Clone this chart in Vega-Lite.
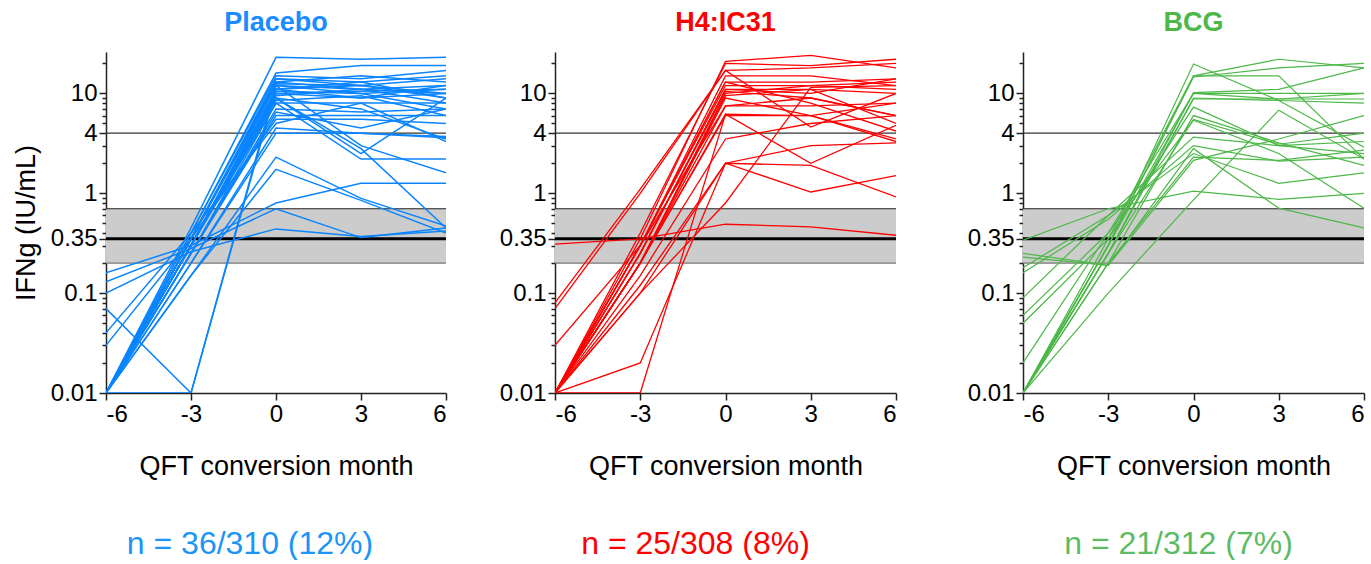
{
  "$schema": "https://vega.github.io/schema/vega-lite/v6.json",
  "padding": {"left": 12, "top": 9, "right": 0, "bottom": 0},
  "background": "white",
  "config": {
    "font": "Liberation Sans",
    "view": {"stroke": null},
    "axis": {"domainColor": "#222", "domainWidth": 1.5, "tickColor": "#222", "tickWidth": 1.5, "labelColor": "#000", "labelFontSize": 24, "titleFontSize": 27, "titleFontWeight": "normal", "titleColor": "#000", "grid": false},
    "title": {"fontSize": 27, "fontWeight": "bold", "anchor": "middle", "frame": "group", "offset": 14},
    "text": {"fontSize": 32}
  },
  "datasets": {
    "ifn": [
      {"g":"P","id":1,"m":-6,"v":0.01},{"g":"P","id":1,"m":-3,"v":0.45},{"g":"P","id":1,"m":0,"v":23},{"g":"P","id":1,"m":3,"v":22},{"g":"P","id":1,"m":6,"v":23},
      {"g":"P","id":2,"m":-6,"v":0.01},{"g":"P","id":2,"m":-3,"v":0.4},{"g":"P","id":2,"m":0,"v":16},{"g":"P","id":2,"m":3,"v":19},{"g":"P","id":2,"m":6,"v":19},
      {"g":"P","id":3,"m":-6,"v":0.01},{"g":"P","id":3,"m":-3,"v":0.4},{"g":"P","id":3,"m":0,"v":15},{"g":"P","id":3,"m":3,"v":14},{"g":"P","id":3,"m":6,"v":17},
      {"g":"P","id":4,"m":-6,"v":0.01},{"g":"P","id":4,"m":-3,"v":0.35},{"g":"P","id":4,"m":0,"v":14},{"g":"P","id":4,"m":3,"v":13},{"g":"P","id":4,"m":6,"v":15},
      {"g":"P","id":5,"m":-6,"v":0.01},{"g":"P","id":5,"m":-3,"v":0.35},{"g":"P","id":5,"m":0,"v":13},{"g":"P","id":5,"m":3,"v":15},{"g":"P","id":5,"m":6,"v":13},
      {"g":"P","id":6,"m":-6,"v":0.01},{"g":"P","id":6,"m":-3,"v":0.35},{"g":"P","id":6,"m":0,"v":12.5},{"g":"P","id":6,"m":3,"v":12},{"g":"P","id":6,"m":6,"v":14},
      {"g":"P","id":7,"m":-6,"v":0.01},{"g":"P","id":7,"m":-3,"v":0.3},{"g":"P","id":7,"m":0,"v":12},{"g":"P","id":7,"m":3,"v":11},{"g":"P","id":7,"m":6,"v":12},
      {"g":"P","id":8,"m":-6,"v":0.01},{"g":"P","id":8,"m":-3,"v":0.3},{"g":"P","id":8,"m":0,"v":11},{"g":"P","id":8,"m":3,"v":13},{"g":"P","id":8,"m":6,"v":9},
      {"g":"P","id":9,"m":-6,"v":0.01},{"g":"P","id":9,"m":-3,"v":0.3},{"g":"P","id":9,"m":0,"v":10.5},{"g":"P","id":9,"m":3,"v":10},{"g":"P","id":9,"m":6,"v":11},
      {"g":"P","id":10,"m":-6,"v":0.01},{"g":"P","id":10,"m":-3,"v":0.3},{"g":"P","id":10,"m":0,"v":10},{"g":"P","id":10,"m":3,"v":9},{"g":"P","id":10,"m":6,"v":10},
      {"g":"P","id":11,"m":-6,"v":0.01},{"g":"P","id":11,"m":-3,"v":0.3},{"g":"P","id":11,"m":0,"v":9.5},{"g":"P","id":11,"m":3,"v":11},{"g":"P","id":11,"m":6,"v":8},
      {"g":"P","id":12,"m":-6,"v":0.01},{"g":"P","id":12,"m":-3,"v":0.3},{"g":"P","id":12,"m":0,"v":9},{"g":"P","id":12,"m":3,"v":7},{"g":"P","id":12,"m":6,"v":3.5},
      {"g":"P","id":13,"m":-6,"v":0.01},{"g":"P","id":13,"m":-3,"v":0.3},{"g":"P","id":13,"m":0,"v":9},{"g":"P","id":13,"m":3,"v":2.5},{"g":"P","id":13,"m":6,"v":9},
      {"g":"P","id":14,"m":-6,"v":0.01},{"g":"P","id":14,"m":-3,"v":0.25},{"g":"P","id":14,"m":0,"v":8},{"g":"P","id":14,"m":3,"v":8},{"g":"P","id":14,"m":6,"v":8},
      {"g":"P","id":15,"m":-6,"v":0.01},{"g":"P","id":15,"m":-3,"v":0.25},{"g":"P","id":15,"m":0,"v":7},{"g":"P","id":15,"m":3,"v":6.5},{"g":"P","id":15,"m":6,"v":7},
      {"g":"P","id":16,"m":-6,"v":0.01},{"g":"P","id":16,"m":-3,"v":0.25},{"g":"P","id":16,"m":0,"v":6.5},{"g":"P","id":16,"m":3,"v":4.5},{"g":"P","id":16,"m":6,"v":7},
      {"g":"P","id":17,"m":-6,"v":0.01},{"g":"P","id":17,"m":-3,"v":0.25},{"g":"P","id":17,"m":0,"v":6},{"g":"P","id":17,"m":3,"v":6},{"g":"P","id":17,"m":6,"v":6},
      {"g":"P","id":18,"m":-6,"v":0.03},{"g":"P","id":18,"m":-3,"v":0.35},{"g":"P","id":18,"m":0,"v":5.5},{"g":"P","id":18,"m":3,"v":5.5},{"g":"P","id":18,"m":6,"v":5},
      {"g":"P","id":19,"m":-6,"v":0.04},{"g":"P","id":19,"m":-3,"v":0.4},{"g":"P","id":19,"m":0,"v":5},{"g":"P","id":19,"m":3,"v":8},{"g":"P","id":19,"m":6,"v":3.3},
      {"g":"P","id":20,"m":-6,"v":0.01},{"g":"P","id":20,"m":-3,"v":0.2},{"g":"P","id":20,"m":0,"v":4.5},{"g":"P","id":20,"m":3,"v":4},{"g":"P","id":20,"m":6,"v":3.7},
      {"g":"P","id":21,"m":-6,"v":0.01},{"g":"P","id":21,"m":-3,"v":0.2},{"g":"P","id":21,"m":0,"v":4},{"g":"P","id":21,"m":3,"v":4},{"g":"P","id":21,"m":6,"v":3.6},
      {"g":"P","id":22,"m":-6,"v":0.01},{"g":"P","id":22,"m":-3,"v":0.15},{"g":"P","id":22,"m":0,"v":2.3},{"g":"P","id":22,"m":3,"v":0.89},{"g":"P","id":22,"m":6,"v":0.47},
      {"g":"P","id":23,"m":-6,"v":0.01},{"g":"P","id":23,"m":-3,"v":0.15},{"g":"P","id":23,"m":0,"v":1.74},{"g":"P","id":23,"m":3,"v":0.85},{"g":"P","id":23,"m":6,"v":0.4},
      {"g":"P","id":24,"m":-6,"v":0.01},{"g":"P","id":24,"m":-3,"v":0.3},{"g":"P","id":24,"m":0,"v":9},{"g":"P","id":24,"m":3,"v":2.8},{"g":"P","id":24,"m":6,"v":0.45},
      {"g":"P","id":25,"m":-6,"v":0.16},{"g":"P","id":25,"m":-3,"v":0.3},{"g":"P","id":25,"m":0,"v":0.8},{"g":"P","id":25,"m":3,"v":1.26},{"g":"P","id":25,"m":6,"v":1.26},
      {"g":"P","id":26,"m":-6,"v":0.13},{"g":"P","id":26,"m":-3,"v":0.28},{"g":"P","id":26,"m":0,"v":0.7},{"g":"P","id":26,"m":3,"v":0.36},{"g":"P","id":26,"m":6,"v":0.45},
      {"g":"P","id":27,"m":-6,"v":0.1},{"g":"P","id":27,"m":-3,"v":0.26},{"g":"P","id":27,"m":0,"v":0.44},{"g":"P","id":27,"m":3,"v":0.37},{"g":"P","id":27,"m":6,"v":0.42},
      {"g":"P","id":28,"m":-6,"v":0.01},{"g":"P","id":28,"m":-3,"v":0.3},{"g":"P","id":28,"m":0,"v":8},{"g":"P","id":28,"m":3,"v":2.2},{"g":"P","id":28,"m":6,"v":2.2},
      {"g":"P","id":29,"m":-6,"v":0.01},{"g":"P","id":29,"m":-3,"v":0.35},{"g":"P","id":29,"m":0,"v":12},{"g":"P","id":29,"m":3,"v":3},{"g":"P","id":29,"m":6,"v":1.6},
      {"g":"P","id":30,"m":-6,"v":0.07},{"g":"P","id":30,"m":-3,"v":0.01},{"g":"P","id":30,"m":0,"v":11},{"g":"P","id":30,"m":3,"v":12},{"g":"P","id":30,"m":6,"v":10},
      {"g":"P","id":31,"m":-6,"v":0.01},{"g":"P","id":31,"m":-3,"v":0.01},{"g":"P","id":31,"m":0,"v":12},{"g":"P","id":31,"m":3,"v":10},{"g":"P","id":31,"m":6,"v":7},
      {"g":"P","id":32,"m":-6,"v":0.01},{"g":"P","id":32,"m":-3,"v":0.35},{"g":"P","id":32,"m":0,"v":13},{"g":"P","id":32,"m":3,"v":11},{"g":"P","id":32,"m":6,"v":10},
      {"g":"P","id":33,"m":-6,"v":0.01},{"g":"P","id":33,"m":-3,"v":0.3},{"g":"P","id":33,"m":0,"v":11},{"g":"P","id":33,"m":3,"v":9},{"g":"P","id":33,"m":6,"v":12},
      {"g":"P","id":34,"m":-6,"v":0.01},{"g":"P","id":34,"m":-3,"v":0.35},{"g":"P","id":34,"m":0,"v":14},{"g":"P","id":34,"m":3,"v":12},{"g":"P","id":34,"m":6,"v":9},
      {"g":"P","id":35,"m":-6,"v":0.01},{"g":"P","id":35,"m":-3,"v":0.3},{"g":"P","id":35,"m":0,"v":10},{"g":"P","id":35,"m":3,"v":10.5},{"g":"P","id":35,"m":6,"v":11},
      {"g":"P","id":36,"m":-6,"v":0.01},{"g":"P","id":36,"m":-3,"v":0.3},{"g":"P","id":36,"m":0,"v":8.5},{"g":"P","id":36,"m":3,"v":9.5},{"g":"P","id":36,"m":6,"v":6},

      {"g":"H","id":101,"m":-6,"v":0.01},{"g":"H","id":101,"m":-3,"v":0.35},{"g":"H","id":101,"m":0,"v":21},{"g":"H","id":101,"m":3,"v":24},{"g":"H","id":101,"m":6,"v":18},
      {"g":"H","id":102,"m":-6,"v":0.01},{"g":"H","id":102,"m":-3,"v":0.4},{"g":"H","id":102,"m":0,"v":20},{"g":"H","id":102,"m":3,"v":19},{"g":"H","id":102,"m":6,"v":22},
      {"g":"H","id":103,"m":-6,"v":0.08},{"g":"H","id":103,"m":-3,"v":1.1},{"g":"H","id":103,"m":0,"v":17},{"g":"H","id":103,"m":3,"v":18},{"g":"H","id":103,"m":6,"v":20},
      {"g":"H","id":104,"m":-6,"v":0.07},{"g":"H","id":104,"m":-3,"v":1.0},{"g":"H","id":104,"m":0,"v":17},{"g":"H","id":104,"m":3,"v":4.6},{"g":"H","id":104,"m":6,"v":10},
      {"g":"H","id":105,"m":-6,"v":0.01},{"g":"H","id":105,"m":-3,"v":0.3},{"g":"H","id":105,"m":0,"v":15},{"g":"H","id":105,"m":3,"v":15},{"g":"H","id":105,"m":6,"v":12},
      {"g":"H","id":106,"m":-6,"v":0.01},{"g":"H","id":106,"m":-3,"v":0.3},{"g":"H","id":106,"m":0,"v":13},{"g":"H","id":106,"m":3,"v":13},{"g":"H","id":106,"m":6,"v":14},
      {"g":"H","id":107,"m":-6,"v":0.01},{"g":"H","id":107,"m":-3,"v":0.3},{"g":"H","id":107,"m":0,"v":12},{"g":"H","id":107,"m":3,"v":12},{"g":"H","id":107,"m":6,"v":11},
      {"g":"H","id":108,"m":-6,"v":0.01},{"g":"H","id":108,"m":-3,"v":0.25},{"g":"H","id":108,"m":0,"v":11},{"g":"H","id":108,"m":3,"v":11},{"g":"H","id":108,"m":6,"v":10},
      {"g":"H","id":109,"m":-6,"v":0.01},{"g":"H","id":109,"m":-3,"v":0.25},{"g":"H","id":109,"m":0,"v":10.5},{"g":"H","id":109,"m":3,"v":9},{"g":"H","id":109,"m":6,"v":6},
      {"g":"H","id":110,"m":-6,"v":0.01},{"g":"H","id":110,"m":-3,"v":0.2},{"g":"H","id":110,"m":0,"v":10},{"g":"H","id":110,"m":3,"v":12},{"g":"H","id":110,"m":6,"v":13},
      {"g":"H","id":111,"m":-6,"v":0.01},{"g":"H","id":111,"m":-3,"v":0.2},{"g":"H","id":111,"m":0,"v":9.5},{"g":"H","id":111,"m":3,"v":11},{"g":"H","id":111,"m":6,"v":5},
      {"g":"H","id":112,"m":-6,"v":0.01},{"g":"H","id":112,"m":-3,"v":0.2},{"g":"H","id":112,"m":0,"v":7.5},{"g":"H","id":112,"m":3,"v":7.5},{"g":"H","id":112,"m":6,"v":8},
      {"g":"H","id":113,"m":-6,"v":0.03},{"g":"H","id":113,"m":-3,"v":0.3},{"g":"H","id":113,"m":0,"v":7.5},{"g":"H","id":113,"m":3,"v":9},{"g":"H","id":113,"m":6,"v":6},
      {"g":"H","id":114,"m":-6,"v":0.01},{"g":"H","id":114,"m":-3,"v":0.2},{"g":"H","id":114,"m":0,"v":6.2},{"g":"H","id":114,"m":3,"v":2.0},{"g":"H","id":114,"m":6,"v":4.8},
      {"g":"H","id":115,"m":-6,"v":0.01},{"g":"H","id":115,"m":-3,"v":0.2},{"g":"H","id":115,"m":0,"v":6},{"g":"H","id":115,"m":3,"v":6},{"g":"H","id":115,"m":6,"v":3.3},
      {"g":"H","id":116,"m":-6,"v":0.01},{"g":"H","id":116,"m":-3,"v":0.15},{"g":"H","id":116,"m":0,"v":3.5},{"g":"H","id":116,"m":3,"v":5},{"g":"H","id":116,"m":6,"v":6},
      {"g":"H","id":117,"m":-6,"v":0.01},{"g":"H","id":117,"m":-3,"v":0.01},{"g":"H","id":117,"m":0,"v":6.2},{"g":"H","id":117,"m":3,"v":6},{"g":"H","id":117,"m":6,"v":3.5},
      {"g":"H","id":118,"m":-6,"v":0.01},{"g":"H","id":118,"m":-3,"v":0.02},{"g":"H","id":118,"m":0,"v":2.0},{"g":"H","id":118,"m":3,"v":3.0},{"g":"H","id":118,"m":6,"v":3.2},
      {"g":"H","id":119,"m":-6,"v":0.01},{"g":"H","id":119,"m":-3,"v":0.1},{"g":"H","id":119,"m":0,"v":2.0},{"g":"H","id":119,"m":3,"v":1.9},{"g":"H","id":119,"m":6,"v":0.92},
      {"g":"H","id":120,"m":-6,"v":0.01},{"g":"H","id":120,"m":-3,"v":0.12},{"g":"H","id":120,"m":0,"v":2.0},{"g":"H","id":120,"m":3,"v":1.03},{"g":"H","id":120,"m":6,"v":1.5},
      {"g":"H","id":121,"m":-6,"v":0.31},{"g":"H","id":121,"m":-3,"v":0.35},{"g":"H","id":121,"m":0,"v":0.49},{"g":"H","id":121,"m":3,"v":0.46},{"g":"H","id":121,"m":6,"v":0.38},
      {"g":"H","id":122,"m":-6,"v":0.01},{"g":"H","id":122,"m":-3,"v":0.1},{"g":"H","id":122,"m":0,"v":0.8},{"g":"H","id":122,"m":3,"v":11.5},{"g":"H","id":122,"m":6,"v":12},
      {"g":"H","id":123,"m":-6,"v":0.01},{"g":"H","id":123,"m":-3,"v":0.3},{"g":"H","id":123,"m":0,"v":13},{"g":"H","id":123,"m":3,"v":8},{"g":"H","id":123,"m":6,"v":4.2},
      {"g":"H","id":124,"m":-6,"v":0.01},{"g":"H","id":124,"m":-3,"v":0.25},{"g":"H","id":124,"m":0,"v":11},{"g":"H","id":124,"m":3,"v":10},{"g":"H","id":124,"m":6,"v":14},
      {"g":"H","id":125,"m":-6,"v":0.01},{"g":"H","id":125,"m":-3,"v":0.2},{"g":"H","id":125,"m":0,"v":9},{"g":"H","id":125,"m":3,"v":6},{"g":"H","id":125,"m":6,"v":8},

      {"g":"B","id":201,"m":-6,"v":0.01},{"g":"B","id":201,"m":-3,"v":0.3},{"g":"B","id":201,"m":0,"v":19.7},{"g":"B","id":201,"m":3,"v":8.5},{"g":"B","id":201,"m":6,"v":2.9},
      {"g":"B","id":202,"m":-6,"v":0.01},{"g":"B","id":202,"m":-3,"v":0.35},{"g":"B","id":202,"m":0,"v":15},{"g":"B","id":202,"m":3,"v":22},{"g":"B","id":202,"m":6,"v":18},
      {"g":"B","id":203,"m":-6,"v":0.01},{"g":"B","id":203,"m":-3,"v":0.3},{"g":"B","id":203,"m":0,"v":14.6},{"g":"B","id":203,"m":3,"v":18},{"g":"B","id":203,"m":6,"v":20},
      {"g":"B","id":204,"m":-6,"v":0.01},{"g":"B","id":204,"m":-3,"v":0.3},{"g":"B","id":204,"m":0,"v":15},{"g":"B","id":204,"m":3,"v":15},{"g":"B","id":204,"m":6,"v":2.2},
      {"g":"B","id":205,"m":-6,"v":0.01},{"g":"B","id":205,"m":-3,"v":0.25},{"g":"B","id":205,"m":0,"v":10.2},{"g":"B","id":205,"m":3,"v":11},{"g":"B","id":205,"m":6,"v":18},
      {"g":"B","id":206,"m":-6,"v":0.02},{"g":"B","id":206,"m":-3,"v":0.4},{"g":"B","id":206,"m":0,"v":10},{"g":"B","id":206,"m":3,"v":8.8},{"g":"B","id":206,"m":6,"v":8.8},
      {"g":"B","id":207,"m":-6,"v":0.01},{"g":"B","id":207,"m":-3,"v":0.25},{"g":"B","id":207,"m":0,"v":9},{"g":"B","id":207,"m":3,"v":8.5},{"g":"B","id":207,"m":6,"v":8},
      {"g":"B","id":208,"m":-6,"v":0.01},{"g":"B","id":208,"m":-3,"v":0.25},{"g":"B","id":208,"m":0,"v":8.8},{"g":"B","id":208,"m":3,"v":8.8},{"g":"B","id":208,"m":6,"v":10},
      {"g":"B","id":209,"m":-6,"v":0.05},{"g":"B","id":209,"m":-3,"v":0.35},{"g":"B","id":209,"m":0,"v":7.3},{"g":"B","id":209,"m":3,"v":3.0},{"g":"B","id":209,"m":6,"v":2.5},
      {"g":"B","id":210,"m":-6,"v":0.01},{"g":"B","id":210,"m":-3,"v":0.2},{"g":"B","id":210,"m":0,"v":6},{"g":"B","id":210,"m":3,"v":3.2},{"g":"B","id":210,"m":6,"v":1.9},
      {"g":"B","id":211,"m":-6,"v":0.06},{"g":"B","id":211,"m":-3,"v":0.4},{"g":"B","id":211,"m":0,"v":5.4},{"g":"B","id":211,"m":3,"v":2.5},{"g":"B","id":211,"m":6,"v":0.71},
      {"g":"B","id":212,"m":-6,"v":0.09},{"g":"B","id":212,"m":-3,"v":0.6},{"g":"B","id":212,"m":0,"v":3.65},{"g":"B","id":212,"m":3,"v":3.0},{"g":"B","id":212,"m":6,"v":3.3},
      {"g":"B","id":213,"m":-6,"v":0.16},{"g":"B","id":213,"m":-3,"v":0.55},{"g":"B","id":213,"m":0,"v":3.0},{"g":"B","id":213,"m":3,"v":2.1},{"g":"B","id":213,"m":6,"v":2.3},
      {"g":"B","id":214,"m":-6,"v":0.18},{"g":"B","id":214,"m":-3,"v":0.6},{"g":"B","id":214,"m":0,"v":2.5},{"g":"B","id":214,"m":3,"v":1.26},{"g":"B","id":214,"m":6,"v":1.6},
      {"g":"B","id":215,"m":-6,"v":0.01},{"g":"B","id":215,"m":-3,"v":0.1},{"g":"B","id":215,"m":0,"v":0.86},{"g":"B","id":215,"m":3,"v":6.8},{"g":"B","id":215,"m":6,"v":2.2},
      {"g":"B","id":216,"m":-6,"v":0.25},{"g":"B","id":216,"m":-3,"v":0.19},{"g":"B","id":216,"m":0,"v":2.14},{"g":"B","id":216,"m":3,"v":3.5},{"g":"B","id":216,"m":6,"v":6.0},
      {"g":"B","id":217,"m":-6,"v":0.34},{"g":"B","id":217,"m":-3,"v":0.7},{"g":"B","id":217,"m":0,"v":1.05},{"g":"B","id":217,"m":3,"v":0.87},{"g":"B","id":217,"m":6,"v":1.0},
      {"g":"B","id":218,"m":-6,"v":0.23},{"g":"B","id":218,"m":-3,"v":0.19},{"g":"B","id":218,"m":0,"v":2.8},{"g":"B","id":218,"m":3,"v":0.71},{"g":"B","id":218,"m":6,"v":0.45},
      {"g":"B","id":219,"m":-6,"v":0.01},{"g":"B","id":219,"m":-3,"v":0.2},{"g":"B","id":219,"m":0,"v":2.3},{"g":"B","id":219,"m":3,"v":2.14},{"g":"B","id":219,"m":6,"v":2.7},
      {"g":"B","id":220,"m":-6,"v":0.01},{"g":"B","id":220,"m":-3,"v":0.25},{"g":"B","id":220,"m":0,"v":5.5},{"g":"B","id":220,"m":3,"v":3.1},{"g":"B","id":220,"m":6,"v":4.0},
      {"g":"B","id":221,"m":-6,"v":0.01},{"g":"B","id":221,"m":-3,"v":0.3},{"g":"B","id":221,"m":0,"v":10},{"g":"B","id":221,"m":3,"v":10},{"g":"B","id":221,"m":6,"v":10}
    ],
    "band": [{"lo": 0.2, "hi": 0.7}],
    "thin": [{"y": 0.7, "c": "#222"}, {"y": 4, "c": "#333"}, {"y": 0.2, "c": "#777"}],
    "cut": [{"y": 0.35}]
  },
  "spacing": 51,
  "hconcat": [
    {
      "spacing": 49,
      "vconcat": [
        {
          "width": 340, "height": 341,
          "title": {"text": "Placebo", "color": "#1A8CFF"},
          "layer": [
            {"data": {"name": "band"}, "mark": {"type": "rect", "color": "#CCCCCC"},
             "encoding": {"y": {"field": "lo", "type": "quantitative", "scale": {"type": "log", "domain": [0.01, 26], "nice": false},
               "axis": {"title": "IFNg (IU/mL)", "titlePadding": 10, "values": [0.01,0.02,0.03,0.04,0.05,0.06,0.07,0.08,0.09,0.1,0.2,0.3,0.35,0.4,0.5,0.6,0.7,0.8,0.9,1,2,3,4,5,6,7,8,9,10,20],
                 "labelExpr": "indexof([0.01,0.1,0.35,1,4,10], datum.value) >= 0 ? format(datum.value, '~g') : ''", "labelOverlap": false, "labelPadding": 2,
                 "tickSize": {"condition": {"test": "indexof([0.01,0.1,0.35,1,4,10], datum.value) >= 0", "value": 7}, "value": 4}}},
               "y2": {"field": "hi"}}},
            {"data": {"name": "thin"}, "mark": {"type": "rule", "strokeWidth": 1.2}, "encoding": {"y": {"field": "y", "type": "quantitative"}, "color": {"field": "c", "type": "nominal", "scale": null}}},
            {"data": {"name": "cut"}, "mark": {"type": "rule", "strokeWidth": 3, "color": "#000"}, "encoding": {"y": {"field": "y", "type": "quantitative"}}},
            {"data": {"name": "ifn"}, "transform": [{"filter": "datum.g === 'P'"}],
             "mark": {"type": "line", "color": "#0A84FF", "strokeWidth": 1.5, "clip": true},
             "encoding": {"x": {"field": "m", "type": "quantitative", "scale": {"domain": [-6, 6], "nice": false},
               "axis": {"title": "QFT conversion month", "values": [-6, -3, 0, 3, 6], "labelExpr": "'' + datum.value", "tickSize": 7, "labelPadding": 2, "titlePadding": 27}},
               "y": {"field": "v", "type": "quantitative"}, "detail": {"field": "id"}}}
          ]
        },
        {"width": 340, "height": 30, "data": {"values": [{"t": "n = 36/310 (12%)"}]}, "mark": {"type": "text", "color": "#1B95F5", "dx": -26}, "encoding": {"text": {"field": "t"}}}
      ]
    },
    {
      "spacing": 69,
      "hconcat": [
        {
          "spacing": 49,
          "vconcat": [
            {
              "width": 341, "height": 341,
              "title": {"text": "H4:IC31", "color": "#FF0000"},
              "layer": [
                {"data": {"name": "band"}, "mark": {"type": "rect", "color": "#CCCCCC"},
                 "encoding": {"y": {"field": "lo", "type": "quantitative", "scale": {"type": "log", "domain": [0.01, 26], "nice": false},
                   "axis": {"title": null, "values": [0.01,0.02,0.03,0.04,0.05,0.06,0.07,0.08,0.09,0.1,0.2,0.3,0.35,0.4,0.5,0.6,0.7,0.8,0.9,1,2,3,4,5,6,7,8,9,10,20],
                     "labelExpr": "indexof([0.01,0.1,0.35,1,4,10], datum.value) >= 0 ? format(datum.value, '~g') : ''", "labelOverlap": false, "labelPadding": 2,
                     "tickSize": {"condition": {"test": "indexof([0.01,0.1,0.35,1,4,10], datum.value) >= 0", "value": 7}, "value": 4}}},
                   "y2": {"field": "hi"}}},
                {"data": {"name": "thin"}, "mark": {"type": "rule", "strokeWidth": 1.2}, "encoding": {"y": {"field": "y", "type": "quantitative"}, "color": {"field": "c", "type": "nominal", "scale": null}}},
                {"data": {"name": "cut"}, "mark": {"type": "rule", "strokeWidth": 3, "color": "#000"}, "encoding": {"y": {"field": "y", "type": "quantitative"}}},
                {"data": {"name": "ifn"}, "transform": [{"filter": "datum.g === 'H'"}],
                 "mark": {"type": "line", "color": "#FF0000", "strokeWidth": 1.3, "clip": true},
                 "encoding": {"x": {"field": "m", "type": "quantitative", "scale": {"domain": [-6, 6], "nice": false},
                   "axis": {"title": "QFT conversion month", "values": [-6, -3, 0, 3, 6], "labelExpr": "'' + datum.value", "tickSize": 7, "labelPadding": 2, "titlePadding": 27}},
                   "y": {"field": "v", "type": "quantitative"}, "detail": {"field": "id"}}}
              ]
            },
            {"width": 341, "height": 30, "data": {"values": [{"t": "n = 25/308 (8%)"}]}, "mark": {"type": "text", "color": "#FF0000", "dx": -30}, "encoding": {"text": {"field": "t"}}}
          ]
        },
        {
          "spacing": 49,
          "vconcat": [
            {
              "width": 341, "height": 341,
              "title": {"text": "BCG", "color": "#4CB84A"},
              "layer": [
                {"data": {"name": "band"}, "mark": {"type": "rect", "color": "#CCCCCC"},
                 "encoding": {"y": {"field": "lo", "type": "quantitative", "scale": {"type": "log", "domain": [0.01, 26], "nice": false},
                   "axis": {"title": null, "values": [0.01,0.02,0.03,0.04,0.05,0.06,0.07,0.08,0.09,0.1,0.2,0.3,0.35,0.4,0.5,0.6,0.7,0.8,0.9,1,2,3,4,5,6,7,8,9,10,20],
                     "labelExpr": "indexof([0.01,0.1,0.35,1,4,10], datum.value) >= 0 ? format(datum.value, '~g') : ''", "labelOverlap": false, "labelPadding": 2,
                     "tickSize": {"condition": {"test": "indexof([0.01,0.1,0.35,1,4,10], datum.value) >= 0", "value": 7}, "value": 4}}},
                   "y2": {"field": "hi"}}},
                {"data": {"name": "thin"}, "mark": {"type": "rule", "strokeWidth": 1.2}, "encoding": {"y": {"field": "y", "type": "quantitative"}, "color": {"field": "c", "type": "nominal", "scale": null}}},
                {"data": {"name": "cut"}, "mark": {"type": "rule", "strokeWidth": 3, "color": "#000"}, "encoding": {"y": {"field": "y", "type": "quantitative"}}},
                {"data": {"name": "ifn"}, "transform": [{"filter": "datum.g === 'B'"}],
                 "mark": {"type": "line", "color": "#4DB848", "strokeWidth": 1.2, "clip": true},
                 "encoding": {"x": {"field": "m", "type": "quantitative", "scale": {"domain": [-6, 6], "nice": false},
                   "axis": {"title": "QFT conversion month", "values": [-6, -3, 0, 3, 6], "labelExpr": "'' + datum.value", "tickSize": 7, "labelPadding": 2, "titlePadding": 27}},
                   "y": {"field": "v", "type": "quantitative"}, "detail": {"field": "id"}}}
              ]
            },
            {"width": 341, "height": 30, "data": {"values": [{"t": "n = 21/312 (7%)"}]}, "mark": {"type": "text", "color": "#5DBB63", "dx": -15}, "encoding": {"text": {"field": "t"}}}
          ]
        }
      ]
    }
  ]
}
